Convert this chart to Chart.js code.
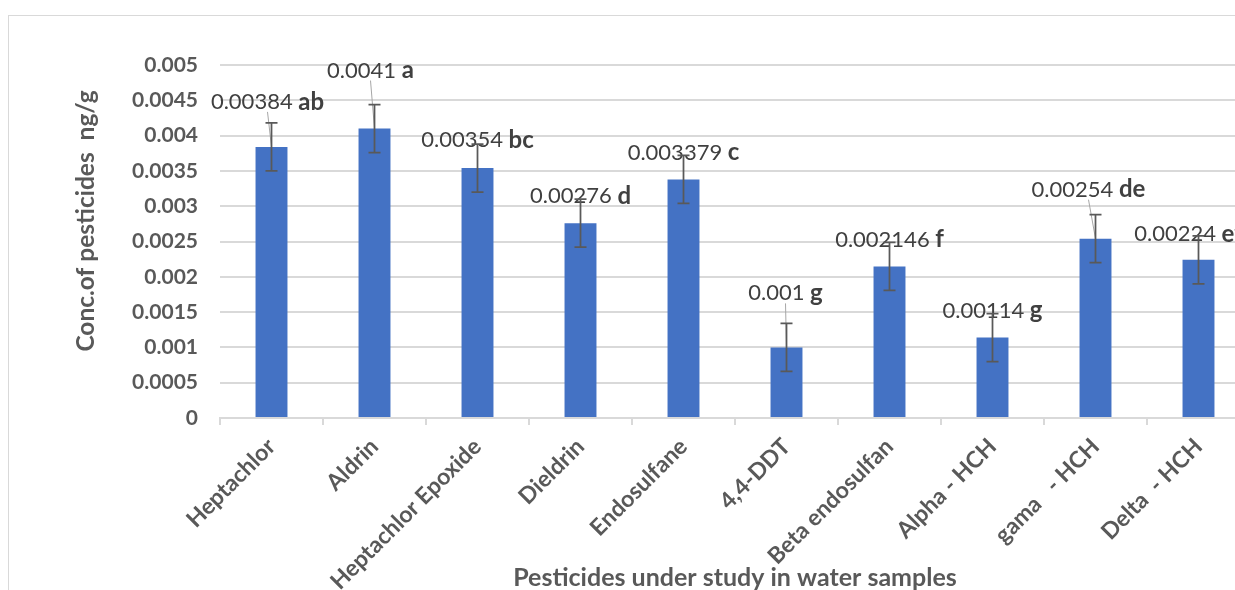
<!DOCTYPE html>
<html>
<head>
<meta charset="utf-8">
<script src="https://cdn.jsdelivr.net/npm/chart.js@4.4.0/dist/chart.umd.min.js"></script>
<style>
  html, body { margin: 0; padding: 0; background: #fff; overflow: hidden; }
  /* light chart frame, only left/top edges show inside the window */
  #frame { position: absolute; left: 8px; top: 15px; width: 1400px; height: 800px; border: 1px solid #d9d9d9; }
  #wrap { position: absolute; left: 0; top: 0; }
</style>
</head>
<body>
<div id="frame"></div>
<div id="wrap"><canvas id="chart" width="1260" height="590"></canvas></div>
<script>
// categories on the x axis
const pesticides = ["Heptachlor", "Aldrin", "Heptachlor Epoxide", "Dieldrin", "Endosulfane",
                    "4,4-DDT", "Beta endosulfan", "Alpha - HCH", "gama   - HCH", "Delta  - HCH"];
// mean concentration, ng/g
const concValues = [0.00384, 0.0041, 0.00354, 0.00276, 0.003379, 0.001, 0.002146, 0.00114, 0.00254, 0.00224];
// error bar (+/-)
const errValues = [0.00034, 0.00034, 0.00034, 0.00034, 0.00034, 0.00034, 0.00034, 0.00034, 0.00034, 0.00034];
// significance letters next to each value
const sigLetters = ["ab", "a", "bc", "d", "c", "g", "f", "g", "de", "ef"];
// y axis tick labels
const yTickLabels = ["0", "0.0005", "0.001", "0.0015", "0.002", "0.0025", "0.003", "0.0035", "0.004", "0.0045", "0.005"];

// label nudges in px from the bar top (dx, dy) - some labels were dragged in the original
const labelShift = [[-4, -45], [-4, -58], [0, -28], [0, -27], [0, -27], [-1, -54], [0, -27], [0, -27], [-7, -49], [-10, -26]];

const axisGrey = "#595959";
const lineGrey = "#d9d9d9";
const fontFam = "Lato, 'Open Sans', sans-serif";

// error bars, data labels and the y title drawn by hand
const annotatePlugin = {
  id: "annotate",
  afterDatasetsDraw(chart) {
    const ctx = chart.ctx;
    const yScale = chart.scales.y;
    const meta = chart.getDatasetMeta(0);
    ctx.save();
    meta.data.forEach(function(bar, i) {
      const cx = bar.x;
      const top = bar.y;
      const lx = cx + labelShift[i][0];
      const ly = top + labelShift[i][1];

      // leader line for the labels that were moved away
      if (labelShift[i][1] < -40) {
        ctx.strokeStyle = "#a6a6a6";
        ctx.lineWidth = 1;
        ctx.beginPath();
        ctx.moveTo(lx, ly + 10);
        ctx.lineTo(cx, top);
        ctx.stroke();
      }

      // value text regular + letter bold
      const valText = String(concValues[i]);
      const letText = sigLetters[i];
      ctx.textBaseline = "middle";
      ctx.textAlign = "left";
      ctx.font = "22px " + fontFam;
      const vw = ctx.measureText(valText + " ").width;
      ctx.font = "bold 24px " + fontFam;
      const lw = ctx.measureText(letText).width;
      let x0 = lx - (vw + lw) / 2;
      ctx.fillStyle = "#404040";
      ctx.font = "22px " + fontFam;
      ctx.fillText(valText, x0, ly);
      ctx.font = "bold 24px " + fontFam;
      ctx.fillText(letText, x0 + vw, ly);

      // error bar
      const yHi = yScale.getPixelForValue(concValues[i] + errValues[i]);
      const yLo = yScale.getPixelForValue(concValues[i] - errValues[i]);
      ctx.strokeStyle = axisGrey;
      ctx.lineWidth = 1.75;
      ctx.beginPath();
      ctx.moveTo(cx, yHi); ctx.lineTo(cx, yLo);
      ctx.moveTo(cx - 6, yHi); ctx.lineTo(cx + 6, yHi);
      ctx.moveTo(cx - 6, yLo); ctx.lineTo(cx + 6, yLo);
      ctx.stroke();
    });

    // y axis title (sits a bit above the plot middle, like the original)
    ctx.translate(86, 221);
    ctx.rotate(-Math.PI / 2);
    ctx.textAlign = "center";
    ctx.textBaseline = "middle";
    ctx.fillStyle = axisGrey;
    ctx.font = "bold 24.5px " + fontFam;
    ctx.fillText("Conc.of pesticides  ng/g", 0, 0);
    ctx.restore();
  }
};

new Chart(document.getElementById("chart"), {
  type: "bar",
  data: {
    labels: pesticides,
    datasets: [{
      data: concValues,
      backgroundColor: "#4472C4",
      barPercentage: 0.62,
      categoryPercentage: 0.5
    }]
  },
  options: {
    responsive: false,
    animation: false,
    layout: { padding: { top: 65, right: 10, bottom: 0, left: 0 } },
    plugins: { legend: { display: false }, tooltip: { enabled: false } },
    scales: {
      x: {
        grid: { offset: true, drawOnChartArea: false, color: lineGrey, lineWidth: 2, tickLength: 7 },
        border: { color: lineGrey, width: 2 },
        ticks: {
          autoSkip: false, maxRotation: 45, minRotation: 45, padding: 8,
          color: axisGrey, font: { family: fontFam, size: 23, weight: "bold" }
        },
        title: {
          display: true, text: "Pesticides under study in water samples",
          color: axisGrey, font: { family: fontFam, size: 25, weight: "bold" },
          padding: { top: 0, bottom: -3 }
        },
        afterFit: function(s) { s.height = 172; }
      },
      y: {
        min: 0, max: 0.005,
        grid: { color: lineGrey, lineWidth: 2, drawTicks: false },
        border: { display: false },
        ticks: {
          stepSize: 0.0005, padding: 22,
          callback: function(v, i) { return yTickLabels[i]; },
          color: axisGrey, font: { family: fontFam, size: 21, weight: "bold" }
        },
        afterFit: function(s) { s.width = 220; }
      }
    }
  },
  plugins: [annotatePlugin]
});
</script>
</body>
</html>
